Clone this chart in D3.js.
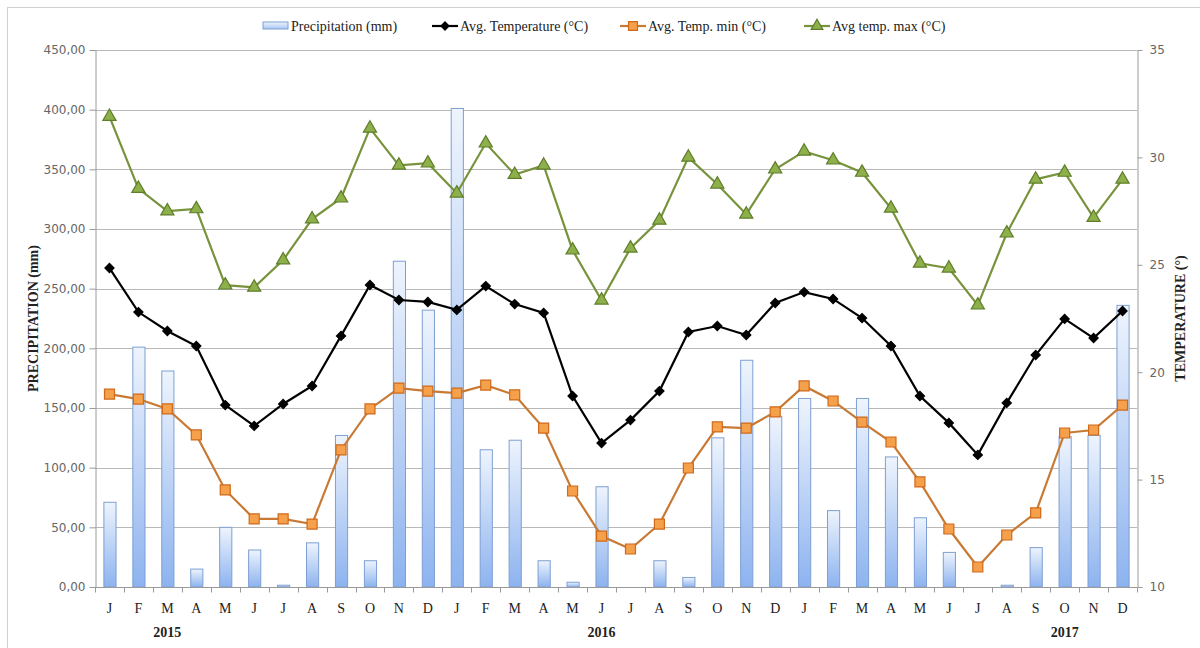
<!DOCTYPE html>
<html><head><meta charset="utf-8">
<script src="https://cdn.jsdelivr.net/npm/d3@7"></script>
<style>body{margin:0;background:#fff}svg{display:block}</style>
</head><body>
<svg id="c" width="1200" height="648"></svg>
<script>
const months = ["J","F","M","A","M","J","J","A","S","O","N","D","J","F","M","A","M","J","J","A","S","O","N","D","J","F","M","A","M","J","J","A","S","O","N","D"];
const years = [{label:"2015", idx:2},{label:"2016", idx:17},{label:"2017", idx:33}];
const precipitation = [71,201,181,15,50,31,1.5,37,127,22,273,232,401,115,123,22,4,84,0,22,8,125,190,143,158,64,158,109,58,29,0,1.5,33,126,127,236];
const tempAvg = [24.85,22.8,21.92,21.22,18.47,17.5,18.52,19.36,21.69,24.06,23.36,23.27,22.9,24.01,23.17,22.76,18.89,16.7,17.77,19.12,21.87,22.15,21.73,23.22,23.73,23.41,22.52,21.22,18.89,17.64,16.15,18.57,20.8,22.48,21.59,22.85];
const tempMin = [18.98,18.75,18.29,17.08,14.52,13.17,13.17,12.93,16.38,18.29,19.26,19.12,19.03,19.4,18.94,17.4,14.47,12.37,11.77,12.93,15.54,17.45,17.4,18.15,19.36,18.66,17.68,16.75,14.89,12.7,10.93,12.42,13.45,17.17,17.31,18.47];
const tempMax = [31.9,28.55,27.5,27.6,24.05,23.95,25.22,27.13,28.1,31.35,29.63,29.73,28.33,30.66,29.2,29.63,25.68,23.35,25.77,27.07,30.0,28.75,27.35,29.45,30.28,29.87,29.3,27.63,25.07,24.84,23.12,26.47,28.98,29.3,27.2,28.98];
const leftTicks = [0,50,100,150,200,250,300,350,400,450];
const rightTicks = [10,15,20,25,30,35];

const svg = d3.select("#c");
const L = 95, R = 1137, T = 50, B = 587;
const serif = "'Liberation Serif','Times New Roman',serif";
const sans = "'DejaVu Sans',Verdana,sans-serif";

svg.append("rect").attr("x",7.5).attr("y",7.5).attr("width",1200).attr("height",700)
  .attr("fill","none").attr("stroke","#d0d0d0");

const idx = d3.range(months.length);
const x = d3.scaleBand().domain(idx).range([L,R]).paddingInner(0.58).paddingOuter(0.29);
const xc = i => x(i) + x.bandwidth()/2;
const yL = d3.scaleLinear().domain([0,450]).range([B,T]);
const yR = d3.scaleLinear().domain([10,35]).range([B,T]);

svg.append("g").selectAll("line").data(leftTicks.slice(1)).join("line")
  .attr("x1",L).attr("x2",R).attr("y1",d=>Math.round(yL(d))+0.5).attr("y2",d=>Math.round(yL(d))+0.5)
  .attr("stroke","#b8b8b8").attr("stroke-width",1);

const defs = svg.append("defs");
const g = defs.append("linearGradient").attr("id","bg").attr("x1",0).attr("y1",0).attr("x2",0).attr("y2",1);
g.append("stop").attr("offset","0%").attr("stop-color","#eef4fd");
g.append("stop").attr("offset","100%").attr("stop-color","#8db3ef");
const lg = defs.append("linearGradient").attr("id","lg").attr("x1",0).attr("y1",0).attr("x2",0).attr("y2",1);
lg.append("stop").attr("offset","0%").attr("stop-color","#eef4fd");
lg.append("stop").attr("offset","100%").attr("stop-color","#a9c6f3");

svg.append("g").selectAll("rect").data(precipitation).join("rect")
  .attr("x",(d,i)=>x(i)+0.5).attr("width",x.bandwidth())
  .attr("y",d=>yL(d)).attr("height",d=>B-yL(d))
  .attr("fill","url(#bg)").attr("stroke","#7d9fd3").attr("stroke-width",1)
  .attr("display",d=>d>0?null:"none");

const ax = svg.append("g").attr("transform",`translate(${L+0.5},0)`)
  .call(d3.axisLeft(yL).tickValues(leftTicks).tickSize(6).tickSizeOuter(0)
    .tickFormat(d=>d3.format(".2f")(d).replace(".",",")));
ax.select(".domain").attr("stroke","#9a9a9a");
ax.selectAll(".tick line").attr("stroke","#9a9a9a");
ax.selectAll(".tick text").attr("font-family",sans).attr("font-size",12).attr("fill","#666").attr("dx",-1);

const ar = svg.append("g").attr("transform",`translate(${R+0.5},0)`)
  .call(d3.axisRight(yR).tickValues(rightTicks).tickSize(5).tickSizeOuter(0));
ar.select(".domain").attr("stroke","#9a9a9a");
ar.selectAll(".tick line").attr("stroke","#9a9a9a");
ar.selectAll(".tick text").attr("font-family",sans).attr("font-size",12).attr("fill","#666").attr("dx",4);

const bx = svg.append("g").attr("transform",`translate(0,${B+0.5})`);
bx.append("line").attr("x1",L).attr("x2",R).attr("stroke","#9a9a9a");
const step = x.step();
bx.selectAll("line.t").data(d3.range(months.length+1)).join("line").attr("class","t")
  .attr("x1",i=>Math.round(L+i*step)+0.5).attr("x2",i=>Math.round(L+i*step)+0.5).attr("y1",0).attr("y2",5)
  .attr("stroke","#9a9a9a");
bx.selectAll("text").data(months).join("text")
  .attr("x",(d,i)=>xc(i)).attr("y",25).attr("text-anchor","middle")
  .attr("font-family",serif).attr("font-size",14).attr("fill","#222").text(d=>d);
svg.append("g").selectAll("text").data(years).join("text")
  .attr("x",d=>xc(d.idx)).attr("y",637).attr("text-anchor","middle")
  .attr("font-family",serif).attr("font-size",14).attr("font-weight","bold").attr("fill","#222").text(d=>d.label);

svg.append("text").attr("transform",`translate(38,${(T+B)/2}) rotate(-90)`).attr("text-anchor","middle")
  .attr("font-family",serif).attr("font-size",14).attr("font-weight","bold").attr("fill","#222").text("PRECIPITATION (mm)");
svg.append("text").attr("transform",`translate(1185,${(T+B)/2}) rotate(-90)`).attr("text-anchor","middle")
  .attr("font-family",serif).attr("font-size",14).attr("font-weight","bold").attr("fill","#222").text("TEMPERATURE (°)");

const line = d3.line().x((d,i)=>xc(i)).y(d=>yR(d));
const series = [
  {data:tempMax, stroke:"#77933c", fill:"#8db04a", mstroke:"#5f7d2a", shape:d3.symbolTriangle, size:75, rot:0},
  {data:tempMin, stroke:"#c87a35", fill:"#f5a04a", mstroke:"#d0691a", shape:d3.symbolSquare, size:100, rot:0},
  {data:tempAvg, stroke:"#000", fill:"#000", mstroke:"#000", shape:d3.symbolSquare, size:42, rot:45}
];
series.forEach(s=>{
  svg.append("path").datum(s.data).attr("d",line).attr("fill","none").attr("stroke",s.stroke).attr("stroke-width",2.2);
  svg.append("g").selectAll("path").data(s.data).join("path")
    .attr("transform",(d,i)=>`translate(${xc(i)},${yR(d)}) rotate(${s.rot})`)
    .attr("d",d3.symbol().type(s.shape).size(s.size)())
    .attr("fill",s.fill).attr("stroke",s.mstroke).attr("stroke-width",1.2);
});

const leg = svg.append("g");
const ly = 26;
leg.append("rect").attr("x",263).attr("y",ly-4).attr("width",25).attr("height",7)
  .attr("fill","url(#lg)").attr("stroke","#7d9fd3");
leg.append("text").attr("x",291).attr("y",ly+5).attr("font-family",serif).attr("font-size",14).attr("fill","#222").text("Precipitation (mm)");
const legItems = [
  {x:432, s:series[2], label:"Avg. Temperature (°C)"},
  {x:620, s:series[1], label:"Avg. Temp. min (°C)"},
  {x:804, s:series[0], label:"Avg temp. max (°C)"}
];
legItems.forEach(it=>{
  leg.append("line").attr("x1",it.x).attr("x2",it.x+26).attr("y1",ly).attr("y2",ly).attr("stroke",it.s.stroke).attr("stroke-width",2.2);
  leg.append("path").attr("transform",`translate(${it.x+13},${ly}) rotate(${it.s.rot})`).attr("d",d3.symbol().type(it.s.shape).size(it.s.size*0.8)())
    .attr("fill",it.s.fill).attr("stroke",it.s.mstroke).attr("stroke-width",1.2);
  leg.append("text").attr("x",it.x+28).attr("y",ly+5).attr("font-family",serif).attr("font-size",14).attr("fill","#222").text(it.label);
});
</script>
</body></html>
